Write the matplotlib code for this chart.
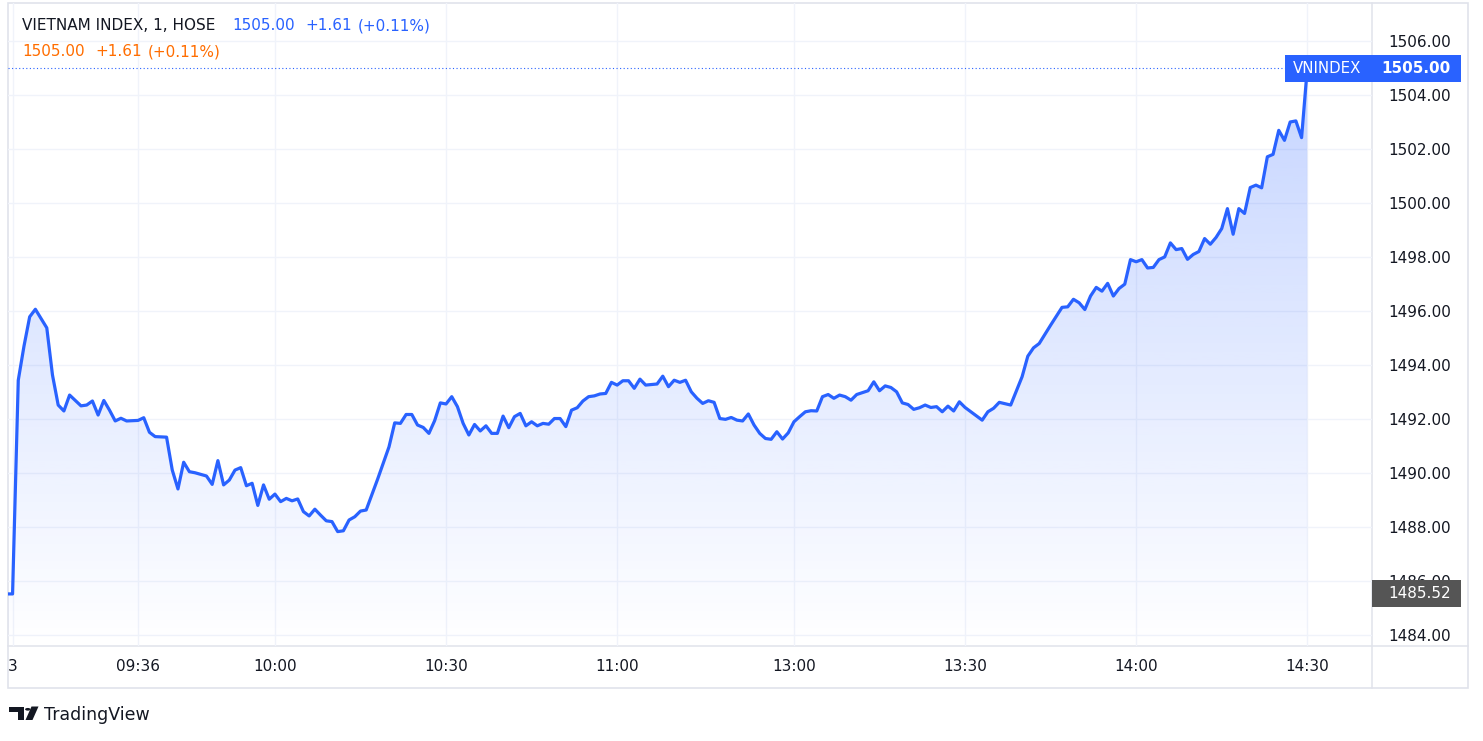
import matplotlib
matplotlib.use("Agg")
import matplotlib.pyplot as plt
import numpy as np
from matplotlib.patches import Rectangle, Polygon, Circle
from matplotlib.lines import Line2D
from matplotlib.transforms import blended_transform_factory
from matplotlib.colors import to_rgb

plt.rcParams['font.family'] = ['DejaVu Sans']

# ---------------- data ----------------
times = [
    "09:13", "09:14", "09:15", "09:16", "09:17", "09:18", "09:20", "09:21", "09:22", "09:23", "09:24",
    "09:26", "09:27", "09:28", "09:29", "09:30", "09:31", "09:32", "09:33", "09:34", "09:36", "09:37",
    "09:38", "09:39", "09:41", "09:42", "09:43", "09:44", "09:45", "09:46", "09:48", "09:49", "09:50",
    "09:51", "09:52", "09:53", "09:54", "09:55", "09:56", "09:57", "09:58", "09:59", "10:00", "10:01",
    "10:02", "10:03", "10:04", "10:05", "10:06", "10:07", "10:08", "10:09", "10:10", "10:11", "10:12",
    "10:13", "10:14", "10:15", "10:16", "10:18", "10:20", "10:21", "10:22", "10:23", "10:24", "10:25",
    "10:26", "10:27", "10:28", "10:29", "10:30", "10:31", "10:32", "10:33", "10:34", "10:35", "10:36",
    "10:37", "10:38", "10:39", "10:40", "10:41", "10:42", "10:43", "10:44", "10:45", "10:46", "10:47",
    "10:48", "10:49", "10:50", "10:51", "10:52", "10:53", "10:54", "10:55", "10:56", "10:57", "10:58",
    "10:59", "11:00", "11:01", "11:02", "11:03", "11:04", "11:05", "11:07", "11:08", "11:09", "11:10",
    "11:11", "11:12", "11:13", "11:14", "11:15", "11:16", "11:17", "11:18", "11:19", "11:20", "11:21",
    "11:22", "11:23", "11:24", "11:25", "11:26", "11:27", "11:28", "11:29", "11:30",
    "13:00", "13:01", "13:02", "13:03", "13:04", "13:05", "13:06", "13:07", "13:08", "13:09", "13:10",
    "13:11", "13:12", "13:13", "13:14", "13:15", "13:16", "13:17", "13:18", "13:19", "13:20", "13:21",
    "13:22", "13:23", "13:24", "13:25", "13:26", "13:27", "13:28", "13:29", "13:30", "13:33", "13:34",
    "13:35", "13:36", "13:38", "13:40", "13:41", "13:42", "13:43", "13:45", "13:47", "13:48", "13:49",
    "13:50", "13:51", "13:52", "13:53", "13:54", "13:55", "13:56", "13:57", "13:58", "13:59", "14:00",
    "14:01", "14:02", "14:03", "14:04", "14:05", "14:06", "14:07", "14:08", "14:09", "14:10", "14:11",
    "14:12", "14:13", "14:14", "14:15", "14:16", "14:17", "14:18", "14:19", "14:20", "14:21", "14:22",
    "14:23", "14:24", "14:25", "14:26", "14:27", "14:28", "14:29", "14:30",
]
values = [
    1485.52, 1485.52, 1493.44, 1494.70, 1495.79, 1496.07, 1495.38, 1493.63, 1492.52, 1492.30, 1492.89,
    1492.49, 1492.52, 1492.67, 1492.15, 1492.69, 1492.33, 1491.93, 1492.03, 1491.93, 1491.95, 1492.05,
    1491.51, 1491.35, 1491.33, 1490.11, 1489.41, 1490.40, 1490.05, 1490.01, 1489.89, 1489.58, 1490.46,
    1489.56, 1489.74, 1490.11, 1490.20, 1489.53, 1489.62, 1488.80, 1489.56, 1489.03, 1489.22, 1488.94,
    1489.06, 1488.97, 1489.04, 1488.57, 1488.41, 1488.66, 1488.44, 1488.23, 1488.20, 1487.83, 1487.86,
    1488.26, 1488.38, 1488.59, 1488.63, 1489.77, 1490.97, 1491.86, 1491.84, 1492.17, 1492.17, 1491.78,
    1491.69, 1491.47, 1491.94, 1492.60, 1492.56, 1492.83, 1492.46, 1491.84, 1491.41, 1491.80, 1491.56,
    1491.75, 1491.47, 1491.47, 1492.11, 1491.68, 1492.09, 1492.21, 1491.75, 1491.90, 1491.75, 1491.84,
    1491.81, 1492.02, 1492.02, 1491.72, 1492.33, 1492.42, 1492.67, 1492.83, 1492.86, 1492.93, 1492.95,
    1493.36, 1493.26, 1493.42, 1493.42, 1493.14, 1493.48, 1493.26, 1493.30, 1493.59, 1493.20, 1493.44,
    1493.36, 1493.44, 1493.01, 1492.77, 1492.58, 1492.68, 1492.62, 1492.02, 1491.99, 1492.06, 1491.96,
    1491.93, 1492.19, 1491.78, 1491.47, 1491.28, 1491.25, 1491.53, 1491.26, 1491.49,
    1491.90, 1492.09, 1492.27, 1492.31, 1492.30, 1492.83, 1492.91, 1492.77, 1492.89, 1492.83, 1492.70,
    1492.91, 1492.98, 1493.05, 1493.38, 1493.05, 1493.23, 1493.17, 1493.01, 1492.60, 1492.54, 1492.36,
    1492.42, 1492.52, 1492.43, 1492.46, 1492.27, 1492.48, 1492.30, 1492.64, 1492.43, 1491.96, 1492.27,
    1492.40, 1492.62, 1492.52, 1493.57, 1494.33, 1494.64, 1494.80, 1495.48, 1496.14, 1496.16, 1496.44,
    1496.31, 1496.06, 1496.56, 1496.88, 1496.74, 1497.03, 1496.56, 1496.84, 1497.00, 1497.91, 1497.83,
    1497.91, 1497.60, 1497.62, 1497.91, 1498.01, 1498.53, 1498.28, 1498.32, 1497.92, 1498.10, 1498.21,
    1498.69, 1498.48, 1498.73, 1499.06, 1499.80, 1498.85, 1499.80, 1499.62, 1500.58, 1500.67, 1500.57,
    1501.72, 1501.81, 1502.70, 1502.33, 1503.01, 1503.05, 1502.43, 1505.00,
]
assert len(times) == len(values)

tick_times = ["09:14", "09:36", "10:00", "10:30", "11:00", "13:00", "13:30", "14:00", "14:30"]
tick_labels = ["3", "09:36", "10:00", "10:30", "11:00", "13:00", "13:30", "14:00", "14:30"]
price_ticks = [1484.0, 1486.0, 1488.0, 1490.0, 1492.0, 1494.0, 1496.0, 1498.0, 1500.0,
               1502.0, 1504.0, 1506.0]

title_text = "VIETNAM INDEX, 1, HOSE"
symbol = "VNINDEX"
last_price = 1505.00
change = 1.61
change_pct = 0.11
ref_price = 1485.52

BLUE = "#2962FF"
ORANGE = "#FF6D00"
TXT = "#131722"
GRID = "#f0f3fa"
BORDER = "#e0e3eb"


def to_idx(t):
    h, m = map(int, t.split(":"))
    tot = h * 60 + m
    # lunch break compressed: 11:30 bar followed directly by 13:00
    return tot - 540 - 89 if tot >= 780 else tot - 540


xs = np.array([to_idx(t) for t in times], dtype=float)
vs = np.array(values)

# ---------------- figure ----------------
W, H = 1483, 741
fig = plt.figure(figsize=(W / 100, H / 100), dpi=100)
fig.patch.set_facecolor("white")

ax_l, ax_r, ax_t, ax_b = 8, 1372.3, 3, 646
ax = fig.add_axes([ax_l / W, 1 - ax_b / H, (ax_r - ax_l) / W, (ax_b - ax_t) / H])
ax.patch.set_visible(False)

x0, x1 = 13.2, 252.4
y0, y1 = 1483.59, 1507.42

# gradient fill under the line
grad = np.zeros((256, 1, 4))
grad[..., :3] = to_rgb(BLUE)
grad[:, 0, 3] = np.linspace(0.30, 0.0, 256)
im = ax.imshow(grad, extent=[x0, x1, y0, y1], aspect="auto", origin="upper",
               zorder=1, interpolation="bilinear")
verts = [(xs[0], y0)] + list(zip(xs, vs)) + [(xs[-1], y0)]
poly = Polygon(verts, closed=True, facecolor="none", edgecolor="none")
ax.add_patch(poly)
im.set_clip_path(poly)

ax.plot(xs, vs, color=BLUE, lw=2.3, solid_joinstyle="round", solid_capstyle="butt", zorder=3)
ax.axhline(last_price, color=BLUE, lw=0.8, ls=(0, (1.0, 2.2)), zorder=2)

ax.set_xlim(x0, x1)
ax.set_ylim(y0, y1)

ax.set_xticks([to_idx(t) for t in tick_times])
ax.set_xticklabels(tick_labels)
ax.set_yticks(price_ticks)
ax.set_yticklabels([f"{p:.2f}" for p in price_ticks])
ax.yaxis.tick_right()
ax.grid(True, color=GRID, lw=1, zorder=0)
ax.set_axisbelow(True)
ax.tick_params(axis="y", length=0, pad=11.5, labelsize=11, labelcolor=TXT)
ax.tick_params(axis="x", length=0, pad=9.5, labelsize=11, labelcolor=TXT)
for s in ax.spines.values():
    s.set_visible(False)


def fx(px):
    return px / W


def fy(py):
    return 1 - py / H


# outer frame and separators (drawn beneath the axes content)
fig.add_artist(Rectangle((fx(8), fy(688)), fx(1468) - fx(8), fy(3) - fy(688),
                         transform=fig.transFigure, fill=False, edgecolor=BORDER, lw=1.2,
                         zorder=-2))
fig.add_artist(Line2D([fx(8), fx(1468)], [fy(646), fy(646)], transform=fig.transFigure,
                      color=BORDER, lw=1.1, zorder=-2))
fig.add_artist(Line2D([fx(1372.3), fx(1372.3)], [fy(3), fy(688)], transform=fig.transFigure,
                      color=BORDER, lw=1.1, zorder=-2))

# price labels on the scale
trans = blended_transform_factory(fig.transFigure, ax.transData)
ax.add_patch(Rectangle((fx(1285), last_price - 0.49), fx(1461) - fx(1285), 0.98,
                       transform=trans, facecolor=BLUE, edgecolor="none", clip_on=False, zorder=10))
ax.text(fx(1293), last_price, symbol, transform=trans, color="white", fontsize=10.8,
        ha="left", va="center", zorder=11, clip_on=False)
ax.text(fx(1451), last_price, f"{last_price:.2f}", transform=trans, color="white", fontsize=11,
        fontweight="bold", ha="right", va="center", zorder=11, clip_on=False)

ax.add_patch(Rectangle((fx(1372.3), ref_price - 0.48), fx(1461) - fx(1372.3), 0.98,
                       transform=trans, facecolor="#555555", edgecolor="none", clip_on=False, zorder=10))
ax.text(fx(1451), ref_price, f"{ref_price:.2f}", transform=trans, color="white", fontsize=11,
        ha="right", va="center", zorder=11, clip_on=False)

# header legend
fig.text(fx(22), fy(26), title_text, color=TXT, fontsize=11, ha="left", va="center")
fig.text(fx(232), fy(26), f"{last_price:.2f}", color=BLUE, fontsize=11, ha="left", va="center")
fig.text(fx(305), fy(26), f"+{change:.2f}", color=BLUE, fontsize=11, ha="left", va="center")
fig.text(fx(358), fy(26), f"(+{change_pct:.2f}%)", color=BLUE, fontsize=11, ha="left", va="center")
fig.text(fx(22), fy(52), f"{last_price:.2f}", color=ORANGE, fontsize=11, ha="left", va="center")
fig.text(fx(95), fy(52), f"+{change:.2f}", color=ORANGE, fontsize=11, ha="left", va="center")
fig.text(fx(148), fy(52), f"(+{change_pct:.2f}%)", color=ORANGE, fontsize=11, ha="left", va="center")

# TradingView logo + wordmark
logo_c = TXT
fig.add_artist(Polygon([(fx(9), fy(706.5)), (fx(24), fy(706.5)), (fx(24), fy(720)),
                        (fx(17.5), fy(720)), (fx(17.5), fy(712)), (fx(9), fy(712))],
                       closed=True, transform=fig.transFigure, facecolor=logo_c, edgecolor="none"))
fig.add_artist(Circle((fx(27.8), fy(709.3)), 2.7 / W, transform=fig.transFigure,
                      facecolor=logo_c, edgecolor="none"))
fig.add_artist(Polygon([(fx(31.5), fy(706.5)), (fx(38.5), fy(706.5)), (fx(32.5), fy(720)),
                        (fx(25.5), fy(720))],
                       closed=True, transform=fig.transFigure, facecolor=logo_c, edgecolor="none"))
fig.text(fx(43.5), fy(715), "TradingView", color=TXT, fontsize=12.5, ha="left", va="center")

fig.savefig("out.png", dpi=100, facecolor="white")
